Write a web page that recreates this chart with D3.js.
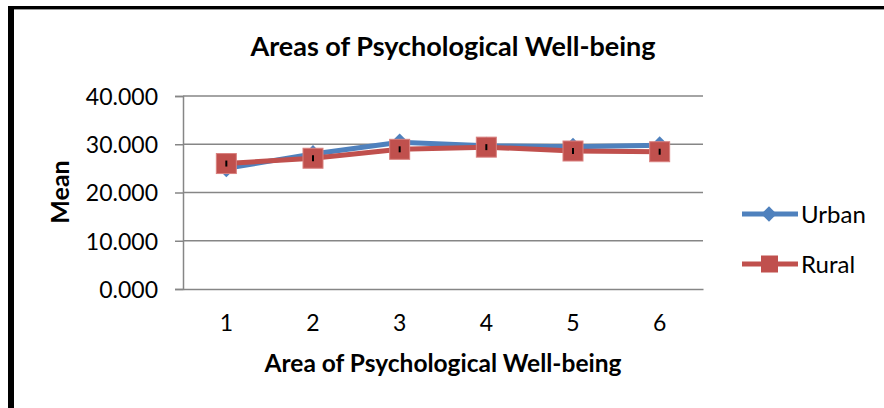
<!DOCTYPE html>
<html>
  <head>
    <meta charset="utf-8">
    <title></title>
    <style>
      body { margin:0; background:#fff; }
      svg { display:block; font-family:Lato, "Open Sans", sans-serif; }
    </style>
  </head>
  <body>
  <svg id="chart" width="884" height="408"></svg>
  <script src="https://d3js.org/d3.v7.min.js"></script>
  <script>
    var areas = [1, 2, 3, 4, 5, 6];
    var urban = [25.0, 28.0, 30.4, 29.7, 29.5, 29.8];
    var rural = [26.0, 27.1, 28.95, 29.4, 28.6, 28.45];
    var yTicks = [0, 10, 20, 30, 40];

    var blue = '#4F81BD', red = '#C0504D', grid = '#868686';
    var svg = d3.select('#chart');

    // frame
    svg.append('line').attr('x1', 11).attr('x2', 11).attr('y1', 6).attr('y2', 408)
      .attr('stroke', '#000').attr('stroke-width', 6);
    svg.append('line').attr('x1', 8).attr('x2', 884).attr('y1', 7.5).attr('y2', 7.5)
      .attr('stroke', '#000').attr('stroke-width', 3);
    svg.append('line').attr('x1', 14).attr('x2', 884).attr('y1', 9.5).attr('y2', 9.5)
      .attr('stroke', '#999').attr('stroke-width', 1);

    var x = d3.scaleBand().domain(areas).range([183, 703]);
    var y = d3.scaleLinear().domain([0, 40]).range([289, 96]);

    // gridlines
    svg.append('g').selectAll('line').data(yTicks.slice(1)).join('line')
      .attr('x1', 183).attr('x2', 703)
      .attr('y1', d => y(d)).attr('y2', d => y(d))
      .attr('stroke', grid).attr('stroke-width', 1.5);

    var yAxis = svg.append('g').attr('transform', 'translate(183,0)')
      .call(d3.axisLeft(y).tickValues(yTicks).tickFormat(d3.format('.3f')).tickSize(8).tickPadding(17));
    yAxis.select('.domain').attr('stroke', grid).attr('stroke-width', 1.5);
    yAxis.selectAll('.tick line').attr('stroke', grid).attr('stroke-width', 1.5);
    yAxis.selectAll('text').attr('font-size', 23).attr('fill', '#000')
      .attr('font-family', 'Lato').attr('dy', '0.36em');

    var xAxis = svg.append('g').attr('transform', 'translate(0,289)')
      .call(d3.axisBottom(x).tickSize(0).tickPadding(26));
    xAxis.select('.domain').attr('stroke', grid).attr('stroke-width', 1.5);
    xAxis.selectAll('text').attr('font-size', 23).attr('fill', '#000')
      .attr('font-family', 'Lato').attr('dy', '0.71em');

    var cx = d => x(d) + x.bandwidth() / 2;
    var line = d3.line().x((d, i) => cx(areas[i])).y(d => y(d));

    svg.append('path').datum(urban).attr('d', line).attr('fill', 'none')
      .attr('stroke', blue).attr('stroke-width', 5);
    svg.append('path').datum(rural).attr('d', line).attr('fill', 'none')
      .attr('stroke', red).attr('stroke-width', 5);

    var diamond = d3.symbol().type(d3.symbolDiamond2).size(200);
    svg.append('g').selectAll('path').data(urban).join('path')
      .attr('d', diamond)
      .attr('transform', (d, i) => 'translate(' + cx(areas[i]) + ',' + y(d) + ')')
      .attr('fill', blue);

    svg.append('g').selectAll('rect').data(rural).join('rect')
      .attr('x', (d, i) => cx(areas[i]) - 10).attr('y', d => y(d) - 10)
      .attr('width', 20).attr('height', 20)
      .attr('fill', red).attr('stroke', '#d9817f').attr('stroke-width', 1);

    // tiny error marks
    svg.append('g').selectAll('line').data(rural).join('line')
      .attr('x1', (d, i) => cx(areas[i])).attr('x2', (d, i) => cx(areas[i]))
      .attr('y1', d => y(d) - 3).attr('y2', d => y(d) + 3)
      .attr('stroke', '#000').attr('stroke-width', 2);

    // titles
    svg.append('text').attr('x', 453).attr('y', 56).attr('text-anchor', 'middle')
      .attr('font-size', 27).attr('font-weight', 'bold').text('Areas of Psychological Well-being');
    svg.append('text').attr('x', 443).attr('y', 372).attr('text-anchor', 'middle')
      .attr('font-size', 24.5).attr('font-weight', 'bold').text('Area of Psychological Well-being');
    svg.append('text').attr('transform', 'translate(69,192) rotate(-90)').attr('text-anchor', 'middle')
      .attr('font-size', 25).attr('font-weight', 'bold').text('Mean');

    // legend
    var legend = [{name:'Urban', color:blue, y:214}, {name:'Rural', color:red, y:264}];
    var lg = svg.append('g').selectAll('g').data(legend).join('g')
      .attr('transform', d => 'translate(0,' + d.y + ')');
    lg.append('line').attr('x1', 742).attr('x2', 798).attr('y1', 0).attr('y2', 0)
      .attr('stroke', d => d.color).attr('stroke-width', 5);
    lg.filter(d => d.name === 'Urban').append('path')
      .attr('d', d3.symbol().type(d3.symbolDiamond2).size(150))
      .attr('transform', 'translate(769,0)').attr('fill', blue);
    lg.filter(d => d.name === 'Rural').append('rect')
      .attr('x', 761).attr('y', -8.5).attr('width', 17).attr('height', 17).attr('fill', red);
    lg.append('text').attr('x', 801).attr('y', 0).attr('dy', '0.36em')
      .attr('font-size', 24).text(d => d.name);
  </script>
  </body>
</html>
